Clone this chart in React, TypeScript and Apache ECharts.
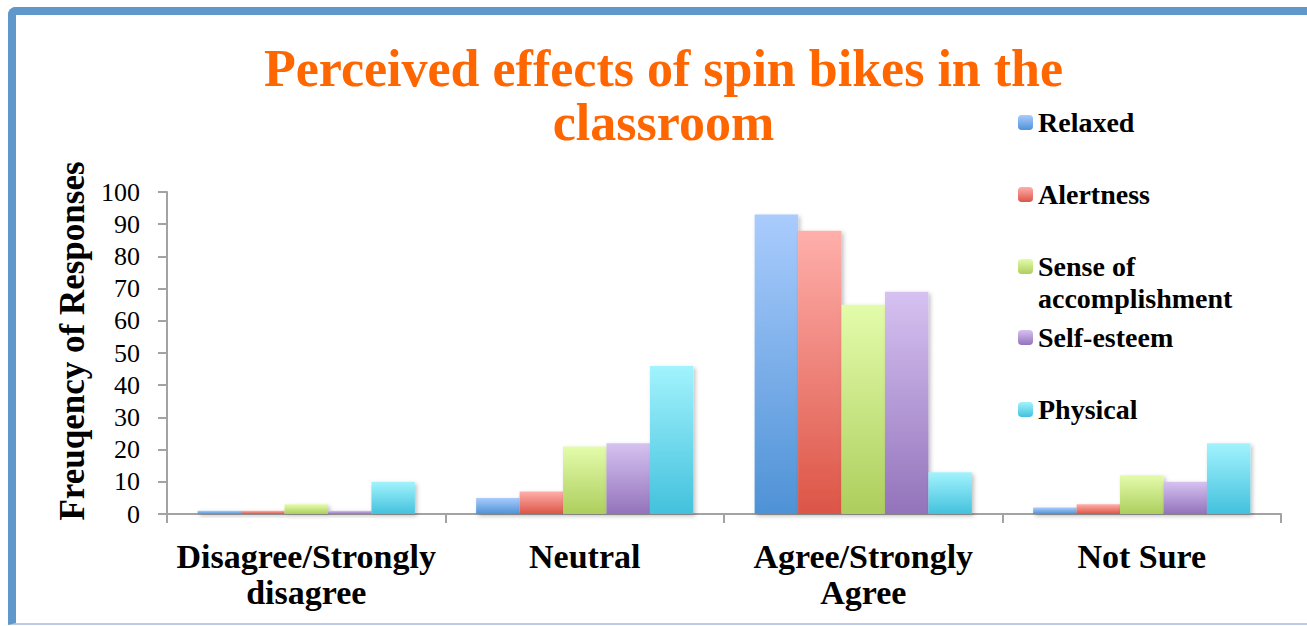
import React, { useEffect, useRef } from "react";
import * as echarts from "echarts";

const categories = ["Disagree/Strongly\ndisagree", "Neutral", "Agree/Strongly\nAgree", "Not Sure"];
const seriesNames = ["Relaxed", "Alertness", "Sense of accomplishment", "Self-esteem", "Physical"];
const relaxed = [1, 5, 93, 2];
const alertness = [1, 7, 88, 3];
const accomplishment = [3, 21, 65, 12];
const selfEsteem = [1, 22, 69, 10];
const physical = [10, 46, 13, 22];
const seriesValues = [relaxed, alertness, accomplishment, selfEsteem, physical];
const topColors = ["#AACCFD", "#FFAFAB", "#E3FCAB", "#D6C2F1", "#A2F3FD"];
const bottomColors = ["#4E92D6", "#DC5546", "#ADCE5D", "#9373BB", "#43C1DD"];
const yMin = 0;
const yMax = 100;
const yInterval = 10;

const FONT = "'Liberation Serif', 'Times New Roman', serif";

export default function App() {
  const ref = useRef<HTMLDivElement>(null);
  useEffect(() => {
    document.body.style.margin = "0";
    if (!ref.current) return;
    const chart = echarts.init(ref.current, undefined, { renderer: "svg" });
    const legendIconTops = [115, 187, 259, 330, 402];
    const legends = seriesNames.map((name, i) => {
      const multi = name === "Sense of accomplishment";
      return {
        data: [name],
        orient: "vertical",
        left: 1018,
        top: legendIconTops[i] - (multi ? 40.5 : 8.5),
        padding: 0,
        itemWidth: 15,
        itemHeight: 15,
        itemGap: 0,
        selectedMode: false,
        formatter: multi ? "\nSense of\naccomplishment" : "{name}",
        textStyle: {
          fontFamily: FONT,
          fontWeight: "bold",
          fontSize: 28,
          color: "#000",
          lineHeight: 32,
        },
      };
    });
    const series = seriesNames.map((name, i) => ({
      name,
      type: "bar",
      data: seriesValues[i],
      barGap: "0%",
      barCategoryGap: "22%",
      itemStyle: {
        color: new echarts.graphic.LinearGradient(0, 0, 0, 1, [
          { offset: 0, color: topColors[i] },
          { offset: 1, color: bottomColors[i] },
        ]),
        shadowBlur: 4,
        shadowColor: "rgba(0,0,0,0.25)",
        shadowOffsetX: 2,
        shadowOffsetY: 2,
      },
    }));
    chart.setOption({
      animation: false,
      title: {
        text: "Perceived effects of spin bikes in the\nclassroom",
        left: 663.5,
        textAlign: "center",
        top: 41.5,
        padding: 0,
        textStyle: {
          fontFamily: FONT,
          fontWeight: "bold",
          fontSize: 52,
          color: "#FF6600",
          lineHeight: 54,
        },
      },
      legend: legends,
      grid: { left: 167, right: 26, top: 192, bottom: 112, outerBoundsMode: "none" },
      xAxis: {
        type: "category",
        data: categories,
        axisLine: { show: true, lineStyle: { color: "#A3A3A3", width: 2 } },
        axisTick: { show: true, length: 9, alignWithLabel: false, lineStyle: { color: "#A3A3A3", width: 2 } },
        axisLabel: {
          interval: 0,
          margin: 24,
          fontFamily: FONT,
          fontWeight: "bold",
          fontSize: 34,
          lineHeight: 36,
          color: "#000",
        },
      },
      yAxis: {
        type: "value",
        min: yMin,
        max: yMax,
        interval: yInterval,
        name: "Freuqency of Responses",
        nameLocation: "middle",
        nameGap: 75,
        nameTextStyle: {
          fontFamily: FONT,
          fontWeight: "bold",
          fontSize: 35,
          color: "#000",
          padding: [0, 0, 0, 24],
        },
        axisLine: { show: true, lineStyle: { color: "#A3A3A3", width: 2 } },
        axisTick: { show: true, length: 9, lineStyle: { color: "#A3A3A3", width: 2 } },
        splitLine: { show: false },
        axisLabel: {
          margin: 27,
          fontFamily: FONT,
          fontSize: 26,
          color: "#000",
        },
      },
      series,
    });
    return () => chart.dispose();
  }, []);
  return (
    <div style={{ position: "relative", width: 1307, height: 626, overflow: "hidden", background: "#fff" }}>
      <div
        style={{
          position: "absolute",
          left: 8,
          top: 7,
          width: 1320,
          height: 608,
          borderLeft: "8px solid #6198CB",
          borderTop: "8px solid #6198CB",
          borderBottom: "2px solid #B9CDE4",
          borderTopLeftRadius: 8,
        }}
      />
      <div ref={ref} style={{ position: "absolute", left: 0, top: 0, width: 1307, height: 626 }} />
    </div>
  );
}
